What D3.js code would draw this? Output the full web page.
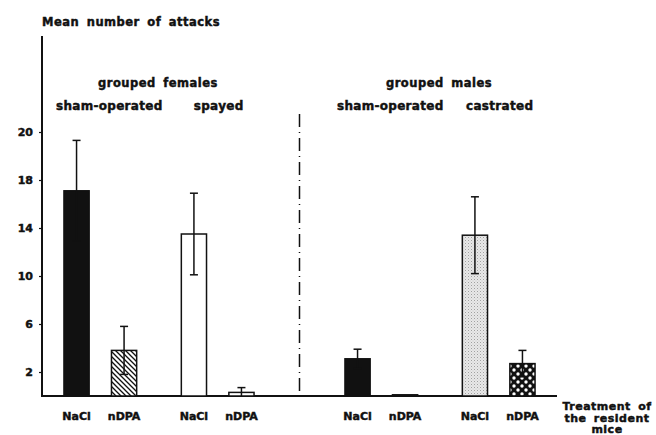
<!DOCTYPE html>
<html>
<head>
<meta charset="utf-8">
<script src="https://cdn.jsdelivr.net/npm/d3@7"></script>
<style>
  html, body { margin: 0; padding: 0; background: #fff; }
  svg text { font-family: "DejaVu Sans", sans-serif; font-weight: bold; fill: #111; stroke: #111; stroke-width: 0.45; }
</style>
</head>
<body>
<svg id="chart" width="656" height="435"></svg>
<script>
// data
const halves = ["grouped females", "grouped males"];
const subgroups = [["sham-operated", "spayed"], ["sham-operated", "castrated"]];
const treatments = ["NaCl", "nDPA"];
const means  = [17.1, 3.8, 13.5, 0.3, 3.1, 0.1, 13.4, 2.7];
const errors = [4.2, 2.0, 3.4, 0.4, 0.8, 0, 3.2, 1.1];
const fills  = ["solid", "hatch", "open", "open", "solid", "solid", "stipple", "dots"];
const tickValues = [2, 6, 10, 14, 18, 22];
const tickLabels = ["2", "6", "10", "14", "18", "20"];

const svg = d3.select("#chart");
const axisX = 42, baseY = 396, baseEnd = 557;

// patterns
const defs = svg.append("defs");
const hatch = defs.append("pattern").attr("id", "hatch")
  .attr("patternUnits", "userSpaceOnUse").attr("width", 5).attr("height", 5);
hatch.append("rect").attr("width", 5).attr("height", 5).attr("fill", "#fff");
hatch.append("path").attr("d", "M-1,-1L6,6M-1,4L1,6M4,-1L6,1")
  .attr("stroke", "#111").attr("stroke-width", 1.3);

const stip = defs.append("pattern").attr("id", "stipple")
  .attr("patternUnits", "userSpaceOnUse").attr("width", 3).attr("height", 3);
stip.append("rect").attr("width", 3).attr("height", 3).attr("fill", "#e8e8e8");
stip.append("rect").attr("x", 0).attr("y", 0).attr("width", 1).attr("height", 1).attr("fill", "#a0a0a0");
stip.append("rect").attr("x", 1.5).attr("y", 1.5).attr("width", 1).attr("height", 1).attr("fill", "#c4c4c4");

const dots = defs.append("pattern").attr("id", "dots")
  .attr("patternUnits", "userSpaceOnUse").attr("width", 8).attr("height", 8);
dots.append("rect").attr("width", 8).attr("height", 8).attr("fill", "#111");
dots.append("circle").attr("cx", 2).attr("cy", 2).attr("r", 1.7).attr("fill", "#fff");
dots.append("circle").attr("cx", 6).attr("cy", 6).attr("r", 1.7).attr("fill", "#fff");

const fillOf = {solid: "#111", hatch: "url(#hatch)", open: "#fff", stipple: "url(#stipple)", dots: "url(#dots)"};

// scales
const y = d3.scaleLinear().domain([0, 22]).range([baseY, baseY - 22 * 12]);
const x0 = d3.scaleBand().domain(halves).range([18.5, 580.5]);
const x1 = d3.scaleBand().domain([0, 1]).range([0, x0.bandwidth()]).padding(0.197).paddingInner(0);
const x2 = d3.scaleBand().domain(treatments).range([0, x1.bandwidth()]).padding(0.47);

const bars = [];
halves.forEach((h, hi) => {
  subgroups[hi].forEach((s, si) => {
    treatments.forEach((t, ti) => {
      const i = hi * 4 + si * 2 + ti;
      bars.push({x: x0(h) + x1(si) + x2(t), w: x2.bandwidth(), t: t,
                 mean: means[i], err: errors[i], fill: fills[i]});
    });
  });
});

// axis lines
svg.append("line").attr("x1", axisX).attr("x2", axisX)
  .attr("y1", y(30)).attr("y2", baseY + 1)
  .attr("stroke", "#111").attr("stroke-width", 2);
svg.append("line").attr("x1", axisX).attr("x2", baseEnd)
  .attr("y1", baseY).attr("y2", baseY)
  .attr("stroke", "#111").attr("stroke-width", 2);

const yAxis = svg.append("g").attr("transform", `translate(${axisX},0)`)
  .call(d3.axisLeft(y).tickValues(tickValues)
    .tickFormat((d, i) => tickLabels[i]).tickSize(3).tickPadding(6));
yAxis.select(".domain").remove();
yAxis.selectAll("line").attr("stroke", "#111").attr("stroke-width", 1.2);
yAxis.selectAll("text").attr("font-size", 11).attr("font-family", "DejaVu Sans")
  .attr("font-weight", "bold").attr("fill", "#111");

// divider
svg.append("line").attr("x1", x0("grouped males")).attr("x2", x0("grouped males"))
  .attr("y1", y(23.5)).attr("y2", baseY)
  .attr("stroke", "#111").attr("stroke-width", 1.5)
  .attr("stroke-dasharray", "13,5,1,5");

// bars
svg.append("g").selectAll("rect").data(bars).join("rect")
  .attr("x", d => d.x).attr("width", d => d.w)
  .attr("y", d => y(d.mean)).attr("height", d => baseY - y(d.mean))
  .attr("fill", d => fillOf[d.fill])
  .attr("stroke", "#111").attr("stroke-width", 1.5);

// error bars
const eb = svg.append("g").selectAll("g").data(bars.filter(d => d.err > 0)).join("g")
  .attr("stroke", "#111").attr("stroke-width", 1.5);
eb.append("line")
  .attr("x1", d => d.x + d.w / 2).attr("x2", d => d.x + d.w / 2)
  .attr("y1", d => y(d.mean + d.err)).attr("y2", d => y(Math.max(0, d.mean - d.err)));
eb.append("line")
  .attr("x1", d => d.x + d.w / 2 - 4).attr("x2", d => d.x + d.w / 2 + 4)
  .attr("y1", d => y(d.mean + d.err)).attr("y2", d => y(d.mean + d.err));
eb.filter(d => d.mean - d.err > 0).append("line")
  .attr("x1", d => d.x + d.w / 2 - 4).attr("x2", d => d.x + d.w / 2 + 4)
  .attr("y1", d => y(d.mean - d.err)).attr("y2", d => y(d.mean - d.err));

// treatment labels
svg.append("g").selectAll("text").data(bars).join("text")
  .attr("x", d => d.x + d.w / 2).attr("y", 420)
  .attr("text-anchor", "middle").attr("font-size", 11)
  .text(d => d.t);

// group labels
const subShift = [9, 1];
halves.forEach((h, hi) => {
  svg.append("text").attr("x", x0(h) + x0.bandwidth() / 2 - 1).attr("y", 87)
    .attr("text-anchor", "middle").attr("font-size", 11.5)
    .attr("letter-spacing", 0.5).attr("word-spacing", 3).text(h);
  subgroups[hi].forEach((s, si) => {
    svg.append("text").attr("x", x0(h) + x1(si) + x1.bandwidth() / 2 + subShift[si]).attr("y", 110)
      .attr("text-anchor", "middle").attr("font-size", 12)
      .attr("letter-spacing", 0.3).text(s);
  });
});

// titles
svg.append("text").attr("x", 42).attr("y", 26).attr("font-size", 11.5)
  .attr("letter-spacing", 0.5).attr("word-spacing", 3)
  .text("Mean number of attacks");

const lab = svg.append("text").attr("font-size", 11).attr("text-anchor", "middle")
  .attr("letter-spacing", 0.5).attr("word-spacing", 3);
["Treatment of", "the resident", "mice"].forEach((s, i) => {
  lab.append("tspan").attr("x", 607).attr("y", 410 + i * 11.5).text(s);
});
</script>
</body>
</html>
